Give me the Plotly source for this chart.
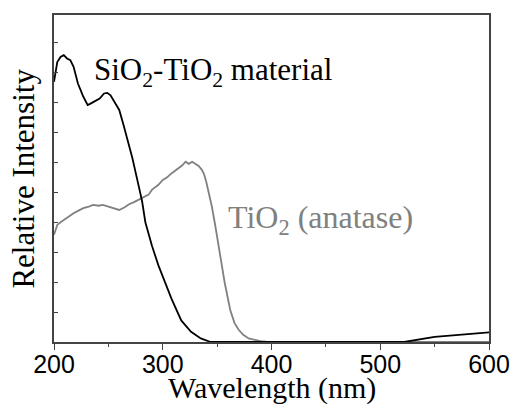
import plotly.graph_objects as go

# SiO2-TiO2 material (black)
sio2_nm = [200, 203, 206, 209, 212, 215, 218, 222, 227, 231, 234, 237, 242, 246, 249,
           252, 256, 260, 264, 267, 272, 278, 281, 284, 290, 296, 302, 308, 317, 326,
           335, 344, 360, 400, 450, 500, 522, 550, 575, 600]
sio2_int = [8.69, 9.35, 9.52, 9.58, 9.47, 9.41, 9.19, 8.63, 8.19, 7.91, 7.97, 8.02, 8.13, 8.30, 8.32,
            8.24, 7.97, 7.75, 7.24, 6.85, 6.15, 5.19, 4.70, 4.00, 3.22, 2.56, 2.00, 1.45, 0.72, 0.34,
            0.12, 0.00, 0.00, 0.00, 0.00, 0.00, 0.00, 0.17, 0.24, 0.32]

# TiO2 (anatase) (gray)
tio2_nm = [200, 203, 206, 209, 213, 218, 222, 227, 232, 236, 241, 245, 250, 254, 260,
           265, 269, 274, 278, 281, 287, 290, 296, 300, 304, 308, 314, 318, 321, 324,
           327, 330, 333, 336, 338, 340, 342, 345, 348, 353, 357, 362, 366, 370, 374,
           379, 383, 390, 395, 400, 450, 500, 550, 600]
tio2_int = [3.58, 3.91, 4.00, 4.08, 4.18, 4.30, 4.38, 4.47, 4.52, 4.58, 4.55, 4.58, 4.52, 4.47, 4.41,
            4.50, 4.60, 4.68, 4.75, 4.80, 4.92, 5.08, 5.25, 5.41, 5.50, 5.63, 5.80, 5.90, 6.02, 5.95,
            6.02, 5.96, 5.88, 5.75, 5.60, 5.35, 5.05, 4.55, 3.95, 2.85, 1.97, 1.08, 0.63, 0.40, 0.24,
            0.12, 0.08, 0.03, 0.01, 0.00, 0.00, 0.00, 0.00, 0.00]

x_ticks = [200, 300, 400, 500, 600]
label_sio2 = "SiO<sub>2</sub>-TiO<sub>2</sub> material"
label_tio2 = "TiO<sub>2</sub> (anatase)"
x_title = "Wavelength (nm)"
y_title = "Relative Intensity"

serif = "Liberation Serif"
sans = "Liberation Sans"

fig = go.Figure()
fig.add_trace(go.Scatter(x=tio2_nm, y=tio2_int, mode="lines",
                         line=dict(color="#808080", width=1.8), showlegend=False))
fig.add_trace(go.Scatter(x=sio2_nm, y=sio2_int, mode="lines",
                         line=dict(color="#000000", width=1.8), showlegend=False))

fig.add_annotation(x=235, y=9.0, xref="x", yref="y", text=label_sio2, showarrow=False,
                   xanchor="left", yanchor="middle",
                   font=dict(family=serif, size=31, color="#000000"))
fig.add_annotation(x=358, y=4.1, xref="x", yref="y", text=label_tio2, showarrow=False,
                   xanchor="left", yanchor="middle",
                   font=dict(family=serif, size=32, color="#808080"))
fig.add_annotation(x=0.5, y=-0.14, xref="paper", yref="paper", text=x_title, showarrow=False,
                   xanchor="center", yanchor="middle",
                   font=dict(family=serif, size=30, color="#000000"))
fig.add_annotation(x=-0.071, y=0.5, xref="paper", yref="paper", text=y_title, showarrow=False,
                   xanchor="center", yanchor="middle", textangle=-90,
                   font=dict(family=serif, size=31, color="#000000"))

fig.update_layout(
    width=522, height=411,
    margin=dict(l=54, r=24, t=15, b=69),
    paper_bgcolor="white", plot_bgcolor="white",
    xaxis=dict(range=[200, 600], tickvals=x_ticks, ticktext=[str(v) for v in x_ticks],
               ticks="outside", ticklen=6, tickwidth=1.2, tickcolor="#444",
               minor=dict(dtick=50, ticks="outside", ticklen=3, tickcolor="#444", showgrid=False),
               showline=True, linecolor="#444", linewidth=1.5, mirror=True,
               showgrid=False, zeroline=False, ticklabelstandoff=-7,
               tickfont=dict(family=sans, size=25, color="#000")),
    yaxis=dict(range=[0, 10.92], dtick=1, tick0=0, showticklabels=False,
               ticks="inside", ticklen=4, tickcolor="#444",
               showline=True, linecolor="#444", linewidth=1.5, mirror=True,
               showgrid=False, zeroline=False),
)

fig.write_html("out.html")
